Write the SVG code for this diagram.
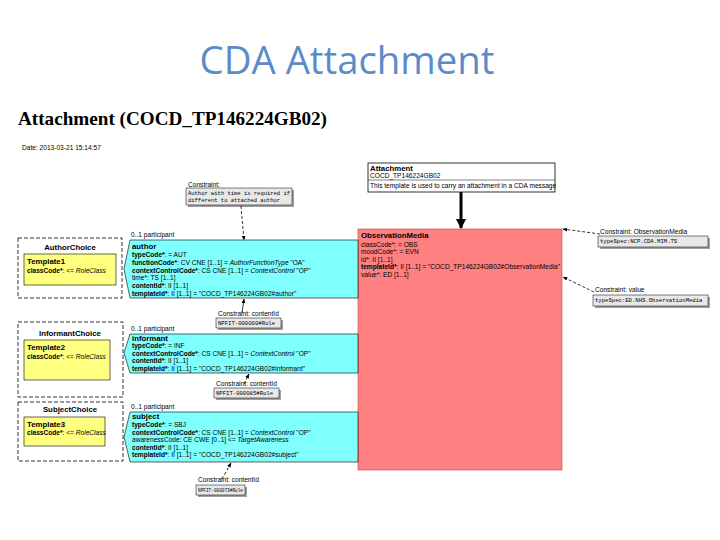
<svg xmlns="http://www.w3.org/2000/svg" width="720" height="540" viewBox="0 0 720 540">
<style>
.t{font-family:"Liberation Sans",Arial,sans-serif;font-size:6.6px;fill:#000}
.b{font-weight:bold}
.i{font-style:italic}
.h{font-weight:bold;font-size:7.8px}
.m{font-family:"Liberation Mono","Courier New",monospace;font-size:5.6px;fill:#000}
.cyan{fill:#80FFFF;stroke:#000;stroke-width:0.6}
.yel{fill:#FFFF80;stroke:#000;stroke-width:0.6}
.choice{fill:#fff;stroke:#000;stroke-width:0.8;stroke-dasharray:4 2}
.con{fill:#E8E8E8;stroke:#000;stroke-width:0.5}
.sh{fill:#A0A0A0}
.dash{fill:none;stroke:#000;stroke-width:0.8;stroke-dasharray:3 2}
.sol{fill:none;stroke:#000;stroke-width:0.8}
</style>
<defs>
<marker id="ah" viewBox="0 0 10 10" refX="9" refY="5" markerWidth="6" markerHeight="6" orient="auto"><path d="M0,1 L10,5 L0,9 Z" fill="#000"/></marker>
<marker id="big" viewBox="0 0 10 10" refX="9" refY="5" markerWidth="3.5" markerHeight="3.5" orient="auto"><path d="M0,0 L10,5 L0,10 Z" fill="#000"/></marker>
</defs>
<rect width="720" height="540" fill="#fff"/>
<text x="347" y="74" text-anchor="middle" font-family="'Open Sans','Liberation Sans',sans-serif" font-size="38" fill="#5B8BC8" textLength="295" lengthAdjust="spacingAndGlyphs">CDA Attachment</text>
<text x="18" y="125" font-family="'Liberation Serif','Times New Roman',serif" font-size="19" font-weight="bold" textLength="309" lengthAdjust="spacingAndGlyphs">Attachment (COCD_TP146224GB02)</text>
<text x="22" y="150" class="t" font-size="6" fill="#333">Date: 2013-03-21 15:14:57</text>

<g id="observationMedia">
<rect x="358" y="229" width="204" height="241" fill="#FF8080" stroke="#C04040" stroke-width="0.6"/>
<text x="361" y="238" class="t h">ObservationMedia</text>
<text x="361" y="247" class="t">classCode*: = OBS</text>
<text x="361" y="254" class="t">moodCode*: = EVN</text>
<text x="361" y="262" class="t">id*: II [1..1]</text>
<text x="361" y="269" class="t"><tspan class="b">templateId*</tspan>: II [1..1] = "COCD_TP146224GB02#ObservationMedia"</text>
<text x="361" y="277" class="t">value*: ED [1..1]</text>
</g>

<g id="attachment">
<rect x="368" y="163" width="187" height="29" fill="#fff" stroke="#000" stroke-width="0.8"/>
<text x="370" y="171" class="t h">Attachment</text>
<text x="370" y="178" class="t" font-size="5" fill="#888">COCD_TP146224GB02</text>
<line x1="368" y1="180" x2="555" y2="180" stroke="#000" stroke-width="0.5"/>
<text x="370" y="188" class="t">This template is used to carry an attachment in a CDA message</text>
</g>

<g id="authorChoice">
<rect x="18" y="238" width="104" height="60" class="choice"/>
<text x="70" y="250" class="t h" text-anchor="middle">AuthorChoice</text>
<rect x="24" y="254" width="92" height="31" class="yel"/>
<text x="27" y="264" class="t h">Template1</text>
<text x="27" y="273" class="t"><tspan class="b">classCode*</tspan>: &lt;= <tspan class="i">RoleClass</tspan></text>
</g>

<g id="author">
<text x="131" y="237" class="t">0..1 participant</text>
<path d="M130,240 H358 V298 H130 L124,269 Z" class="cyan"/>
<text x="132" y="249" class="t h">author</text>
<text x="132" y="257" class="t"><tspan class="b">typeCode*</tspan>: = AUT</text>
<text x="132" y="265" class="t"><tspan class="b">functionCode*</tspan>: CV CNE [1..1] = <tspan class="i">AuthorFunctionType</tspan> "OA"</text>
<text x="132" y="273" class="t"><tspan class="b">contextControlCode*</tspan>: CS CNE [1..1] = <tspan class="i">ContextControl</tspan> "OP"</text>
<text x="132" y="280" class="t">time*: TS [1..1]</text>
<text x="132" y="288" class="t"><tspan class="b">contentId*</tspan>: II [1..1]</text>
<text x="132" y="296" class="t"><tspan class="b">templateId*</tspan>: II [1..1] = "COCD_TP146224GB02#author"</text>
</g>

<g id="informantChoice">
<rect x="18" y="322" width="105" height="75" class="choice"/>
<text x="70" y="336" class="t h" text-anchor="middle">InformantChoice</text>
<rect x="24" y="340" width="86" height="40" class="yel"/>
<text x="27" y="350" class="t h">Template2</text>
<text x="27" y="359" class="t"><tspan class="b">classCode*</tspan>: &lt;= <tspan class="i">RoleClass</tspan></text>
</g>

<g id="informant">
<text x="131" y="331" class="t">0..1 participant</text>
<path d="M130,334 H358 V373 H130 L124,353 Z" class="cyan"/>
<text x="132" y="341" class="t h">informant</text>
<text x="132" y="348" class="t"><tspan class="b">typeCode*</tspan>: = INF</text>
<text x="132" y="356" class="t"><tspan class="b">contextControlCode*</tspan>: CS CNE [1..1] = <tspan class="i">ContextControl</tspan> "OP"</text>
<text x="132" y="363" class="t"><tspan class="b">contentId*</tspan>: II [1..1]</text>
<text x="132" y="371" class="t"><tspan class="b">templateId*</tspan>: II [1..1] = "COCD_TP146224GB02#informant"</text>
</g>

<g id="subjectChoice">
<rect x="18" y="402" width="105" height="59" class="choice"/>
<text x="70" y="412" class="t h" text-anchor="middle">SubjectChoice</text>
<rect x="24" y="417" width="81" height="29" class="yel"/>
<text x="27" y="427" class="t h">Template3</text>
<text x="27" y="435" class="t"><tspan class="b">classCode*</tspan>: &lt;= <tspan class="i">RoleClass</tspan></text>
</g>

<g id="subject">
<text x="131" y="409" class="t">0..1 participant</text>
<path d="M130,412 H358 V462 H130 L124,437 Z" class="cyan"/>
<text x="132" y="419" class="t h">subject</text>
<text x="132" y="427" class="t"><tspan class="b">typeCode*</tspan>: = SBJ</text>
<text x="132" y="435" class="t"><tspan class="b">contextControlCode*</tspan>: CS CNE [1..1] = <tspan class="i">ContextControl</tspan> "OP"</text>
<text x="132" y="442" class="t">awarenessCode: CE CWE [0..1] &lt;= <tspan class="i">TargetAwareness</tspan></text>
<text x="132" y="450" class="t"><tspan class="b">contentId*</tspan>: II [1..1]</text>
<text x="132" y="457" class="t"><tspan class="b">templateId*</tspan>: II [1..1] = "COCD_TP146224GB02#subject"</text>
</g>

<g id="constraintAuthor">
<text x="188" y="187" class="t" font-size="6">Constraint:</text>
<rect x="188" y="190" width="106" height="17" class="sh"/>
<rect x="186" y="188" width="106" height="17" class="con"/>
<text x="188" y="195" class="m" textLength="102" lengthAdjust="spacingAndGlyphs">Author with time is required if</text>
<text x="188" y="202" class="m" textLength="92" lengthAdjust="spacingAndGlyphs">different to attached author</text>
</g>

<g id="constraintAuthorContentId">
<text x="218" y="316" class="t" font-size="6">Constraint: contentId</text>
<rect x="218" y="320" width="65" height="10" class="sh"/>
<rect x="216" y="318" width="65" height="10" class="con"/>
<text x="218" y="325" class="m" font-size="5">NPFIT-000000#Role</text>
</g>

<g id="constraintInformantContentId">
<text x="216" y="386" class="t" font-size="6">Constraint: contentId</text>
<rect x="216" y="390" width="65" height="10" class="sh"/>
<rect x="214" y="388" width="65" height="10" class="con"/>
<text x="216" y="395" class="m" font-size="5">NPFIT-000085#Role</text>
</g>

<g id="constraintSubjectContentId">
<text x="198" y="482" class="t" font-size="6">Constraint: contentId</text>
<rect x="198" y="487" width="49" height="10" class="sh"/>
<rect x="196" y="485" width="49" height="10" class="con"/>
<text x="198" y="492" class="m" font-size="5" textLength="45" lengthAdjust="spacingAndGlyphs">NPFIT-000073#Role</text>
</g>

<g id="constraintObservationMedia">
<text x="600" y="234" class="t" font-size="6">Constraint: ObservationMedia</text>
<rect x="600" y="238" width="110" height="11" class="sh"/>
<rect x="598" y="236" width="110" height="11" class="con"/>
<text x="600" y="243" class="m" font-size="5">typeSpec:NCP.CDA.MIM.TS</text>
</g>

<g id="constraintValue">
<text x="595" y="292" class="t" font-size="6">Constraint: value</text>
<rect x="595" y="297" width="115" height="11" class="sh"/>
<rect x="593" y="295" width="115" height="11" class="con"/>
<text x="595" y="302" class="m" font-size="5">typeSpec:ED.NHS.ObservationMedia</text>
</g>

<g id="connectors">
<line x1="461" y1="192" x2="461" y2="228" stroke="#000" stroke-width="3" marker-end="url(#big)"/>
<line x1="241" y1="206" x2="244" y2="240" class="dash" marker-end="url(#ah)"/>
<line x1="242" y1="313" x2="244" y2="299" class="sol" marker-end="url(#ah)"/>
<line x1="244" y1="384" x2="249" y2="374" class="dash" marker-end="url(#ah)"/>
<line x1="222" y1="479" x2="231" y2="463" class="dash" marker-end="url(#ah)"/>
<line x1="600" y1="234" x2="563" y2="229" class="dash" marker-end="url(#ah)"/>
<line x1="594" y1="292" x2="563" y2="277" class="dash" marker-end="url(#ah)"/>
</g>
</svg>
